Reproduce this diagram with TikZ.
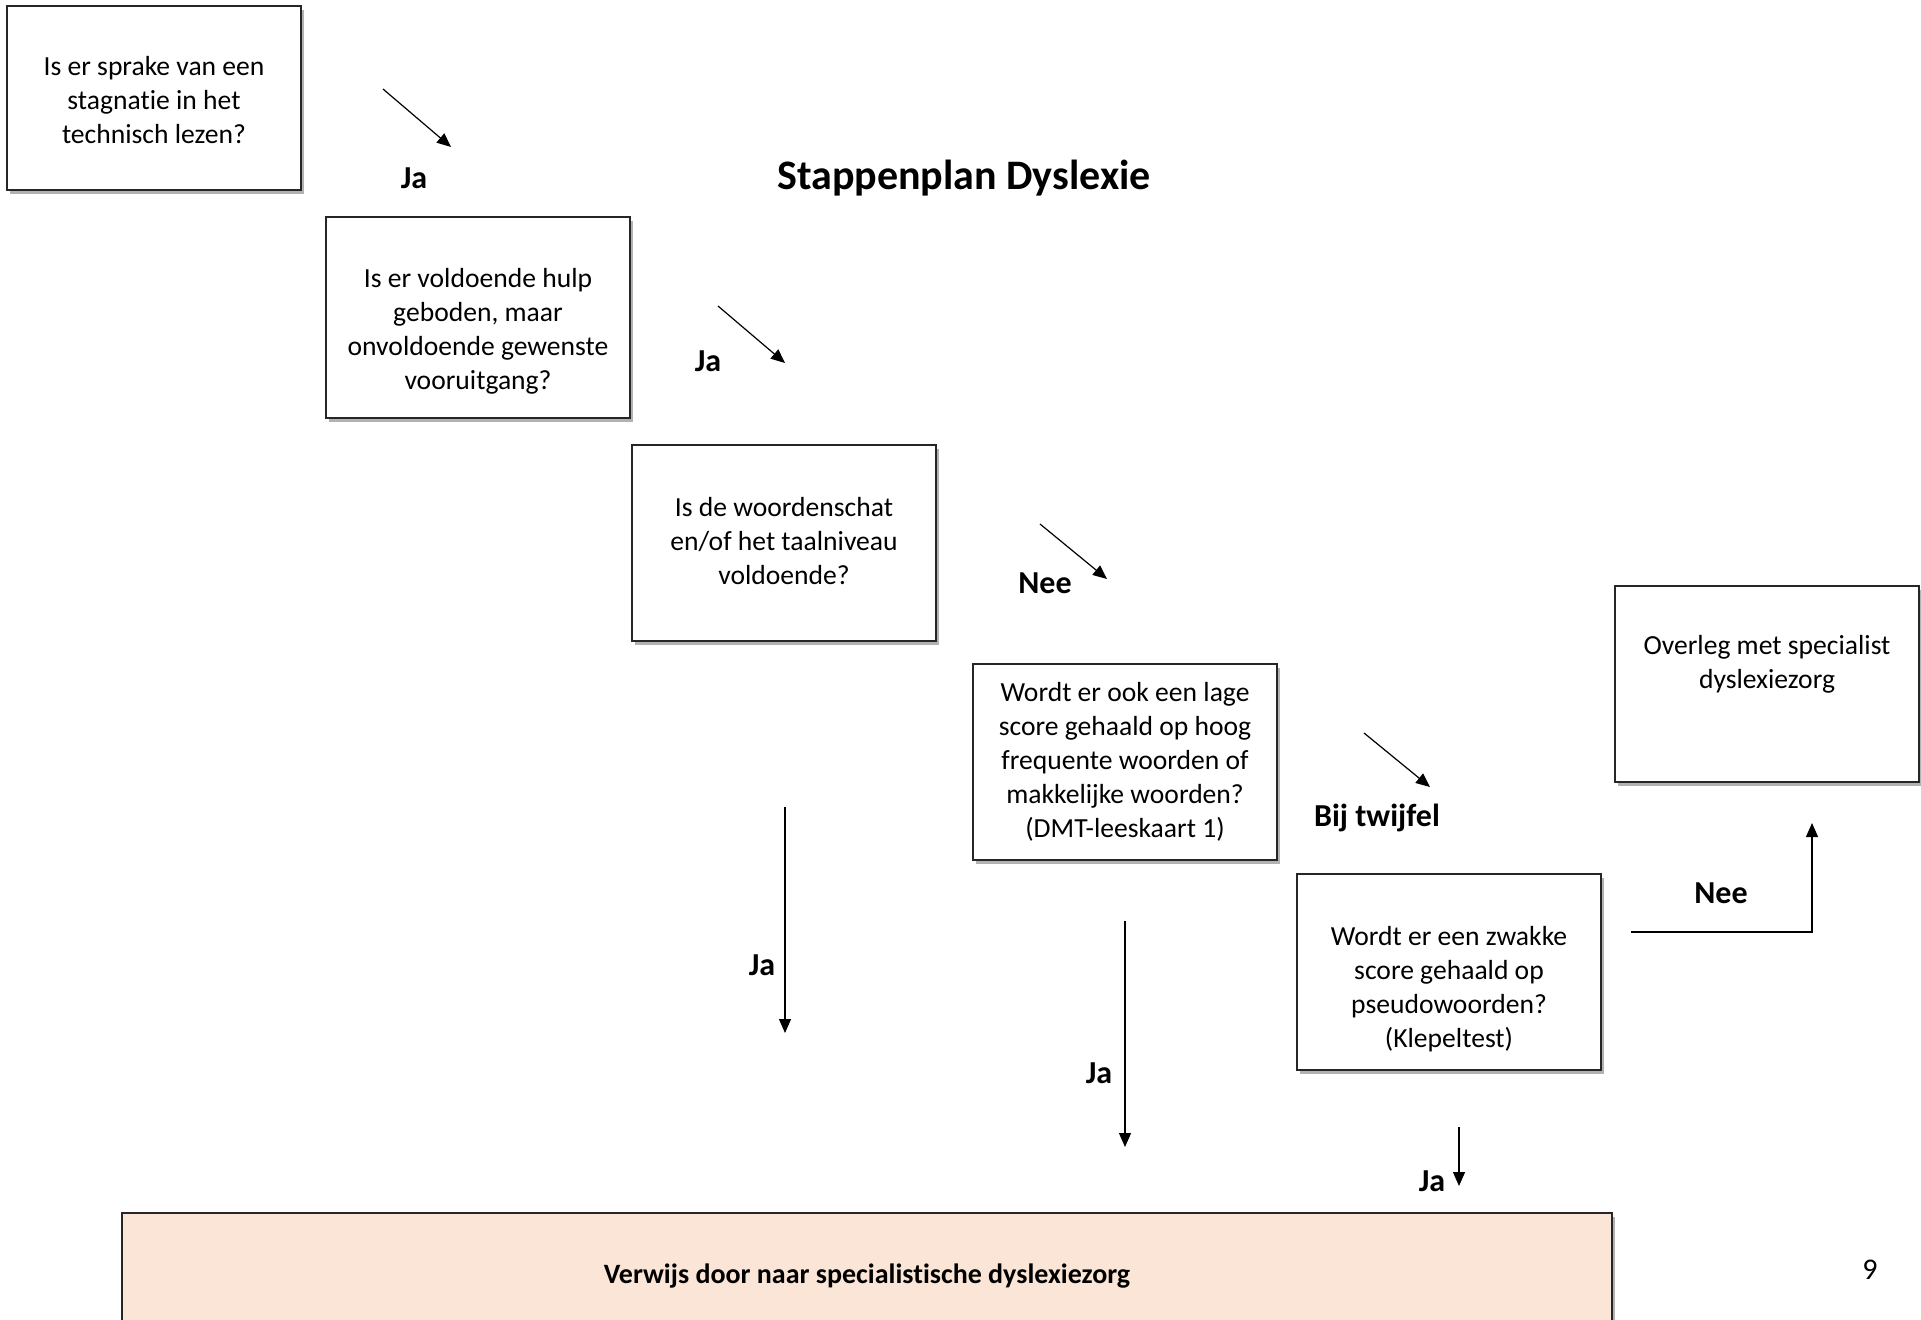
\documentclass[tikz,border=0pt]{standalone}
\usepackage{fontspec}
\setmainfont{Carlito}[Ligatures=NoCommon]
\usetikzlibrary{arrows.meta,shadows}
\definecolor{peach}{HTML}{FBE5D6}
\begin{document}
\begin{tikzpicture}[x=0.5pt,y=-0.5pt,
  qbox/.style={draw=black!85, line width=0.6pt, fill=white, align=center,
    font=\fontsize{13.8}{17}\selectfont, inner sep=0pt,
    drop shadow={shadow xshift=1.5pt, shadow yshift=-2pt, opacity=0.3, fill=black}},
  qtext/.style={align=center, font=\fontsize{13.8}{17}\selectfont, inner sep=0pt},
  lbl/.style={font=\bfseries\fontsize{16}{19}\selectfont, inner sep=0pt},
  arr/.style={-{Triangle[length=7pt,width=6pt]}, line width=0.6pt}]
\clip (0,0) rectangle (1921,1319);
\fill[white] (0,0) rectangle (1921,1319);

% title
\node[font=\bfseries\fontsize{21}{25}\selectfont, inner sep=0pt] (title) at (964,178) {Stappenplan Dyslexie};

% question boxes
\node[qbox, minimum width=147pt, minimum height=92pt,
  label={[qtext, yshift=-1.2pt]center:{Is er sprake van een\\stagnatie in het\\technisch lezen?}}] (q1) at (154,98) {};
\node[qbox, minimum width=152pt, minimum height=100.5pt,
  label={[qtext, yshift=-7pt]center:{Is er voldoende hulp\\geboden, maar\\onvoldoende gewenste\\vooruitgang?}}] (q2) at (478,317.5) {};
\node[qbox, minimum width=152pt, minimum height=98pt,
  label={[qtext, yshift=1pt]center:{Is de woordenschat\\en/of het taalniveau\\voldoende?}}] (q3) at (784,543) {};
\node[qbox, minimum width=152pt, minimum height=98pt,
  label={[qtext]center:{Wordt er ook een lage\\score gehaald op hoog\\frequente woorden of\\makkelijke woorden?\\(DMT-leeskaart 1)}}] (q4) at (1125,762) {};
\node[qbox, minimum width=152pt, minimum height=98pt,
  label={[qtext, yshift=-8.5pt]center:{Wordt er een zwakke\\score gehaald op\\pseudowoorden?\\(Klepeltest)}}] (q5) at (1449,972) {};
\node[qbox, minimum width=152pt, minimum height=98pt,
  label={[qtext, yshift=10pt]center:{Overleg met specialist\\dyslexiezorg}}] (o1) at (1767,684) {};

% referral box
\node[qbox, fill=peach, minimum width=745pt, minimum height=58.5pt,
  label={[font=\bfseries\fontsize{14}{17}\selectfont, inner sep=0pt, yshift=-2.5pt]center:Verwijs door naar specialistische dyslexiezorg}] (ref) at (867,1271.5) {};

% page number
\node[font=\fontsize{15}{18}\selectfont, inner sep=0pt] (pg) at (1870,1270) {9};

% diagonal arrows
\coordinate (a1s) at (383,89);   \coordinate (a1e) at (451,147);
\coordinate (a2s) at (718,306);  \coordinate (a2e) at (785,363);
\coordinate (a3s) at (1040,524); \coordinate (a3e) at (1107,579);
\coordinate (a4s) at (1364,733); \coordinate (a4e) at (1430,787);
\draw[arr] (a1s) -- (a1e);
\draw[arr] (a2s) -- (a2e);
\draw[arr] (a3s) -- (a3e);
\draw[arr] (a4s) -- (a4e);

% vertical arrows
\coordinate (vas) at (785,807);  \coordinate (vae) at (785,1033);
\coordinate (vbs) at (1125,921); \coordinate (vbe) at (1125,1147);
\coordinate (vcs) at (1459,1127);\coordinate (vce) at (1459,1186);
\draw[arr] (vas) -- (vae);
\draw[arr] (vbs) -- (vbe);
\draw[arr] (vcs) -- (vce);

% Nee elbow arrow
\coordinate (ns) at (1631,932); \coordinate (ne) at (1812,823);
\draw[arr] (ns) -| (ne);

% labels
\node[lbl] (l1) at (414,178) {Ja};
\node[lbl] (l2) at (708,361) {Ja};
\node[lbl] (l3) at (1045,583) {Nee};
\node[lbl] (l4) at (1377,818) {Bij twijfel};
\node[lbl] (l5) at (1721,893) {Nee};
\node[lbl] (l6) at (762,965) {Ja};
\node[lbl] (l7) at (1099,1073) {Ja};
\node[lbl] (l8) at (1432,1181) {Ja};
\end{tikzpicture}
\end{document}
